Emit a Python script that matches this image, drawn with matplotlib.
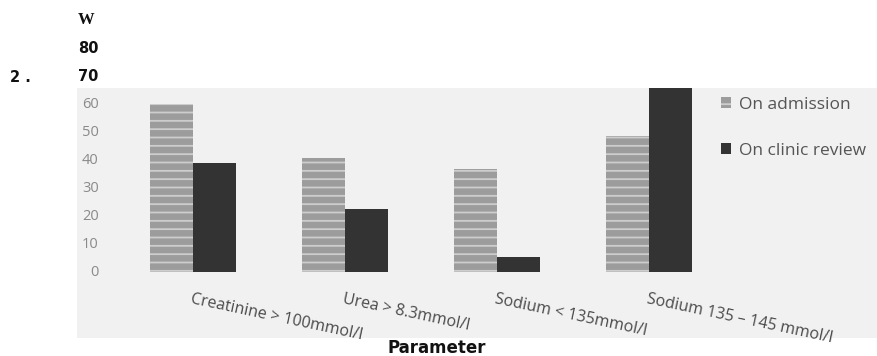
import matplotlib.pyplot as plt
import numpy as np

# values
categories = ['Creatinine > 100mmol/l', 'Urea > 8.3mmol/l',
              'Sodium < 135mmol/l', 'Sodium 135 \u2013 145 mmol/l']
on_admission = [60, 41, 37, 48.5]
on_clinic_review = [39, 22.5, 5.5, 68]
yticks = [0, 10, 20, 30, 40, 50, 60]
upper_labels = [(70, '70'), (80, '80'), (90, 'W')]

fig = plt.figure(figsize=(8.78, 3.56), dpi=100)
fig.patch.set_facecolor('white')

# the scanned grey area
ax = fig.add_axes([77/878, 1 - 338/356, 801/878, 250/356])
ax.set_facecolor('#f1f1f1')
for s in ax.spines.values():
    s.set_visible(False)

x = np.arange(len(categories))
w = 0.28
plt.rcParams['hatch.linewidth'] = 1.3
ax.bar(x - w/2, on_admission, w, color='#9c9c9c', edgecolor='#cdcdcd',
       hatch='--', linewidth=0, label='On admission')
ax.bar(x + w/2, on_clinic_review, w, color='#333333', edgecolor='#333333',
       linewidth=0, label='On clinic review')

ax.set_xlim(-0.763, 4.507)
ax.set_ylim(-23.4, 65.8)
ax.set_xticks([])
ax.set_yticks([])

# y tick labels drawn inside the grey area
for v in yticks:
    ax.text(0.027, v, str(v), transform=ax.get_yaxis_transform(),
            ha='right', va='center', fontsize=10.5, color='#8a8a8a',
            family='Open Sans')

# labels above the scan
for v, s in upper_labels:
    if s == 'W':
        ax.text(0.001, v, s, transform=ax.get_yaxis_transform(), ha='left',
                va='center', fontsize=12, fontweight='bold', color='#111111',
                family='Liberation Serif', clip_on=False)
    else:
        ax.text(0.001, v, s, transform=ax.get_yaxis_transform(), ha='left',
                va='center', fontsize=10.5, fontweight='bold',
                color='#111111', clip_on=False)
fig.text(10/878, 1 - 77/356, '2 .', ha='left', va='center', fontsize=10.5,
         fontweight='bold', color='#111111')

# slanted category labels
for xi, lab in zip(x, categories):
    ax.text(xi, -6.6, lab, rotation=-12, rotation_mode='anchor', ha='left',
            va='top', fontsize=11.5, color='#4a4a4a', family='Open Sans')

fig.text(437/878, 1 - 348/356, 'Parameter', ha='center', va='center',
         fontsize=12, fontweight='bold', color='#111111')

leg = ax.legend(loc='upper left', bbox_to_anchor=((712-77)/801, 1.0),
                frameon=False, fontsize=12.5, handlelength=0.6,
                handleheight=0.6, handletextpad=0.45, labelspacing=1.75,
                borderpad=0)
for t in leg.get_texts():
    t.set_color('#555555')
    t.set_family('Open Sans')

fig.savefig('out.png', dpi=100)
